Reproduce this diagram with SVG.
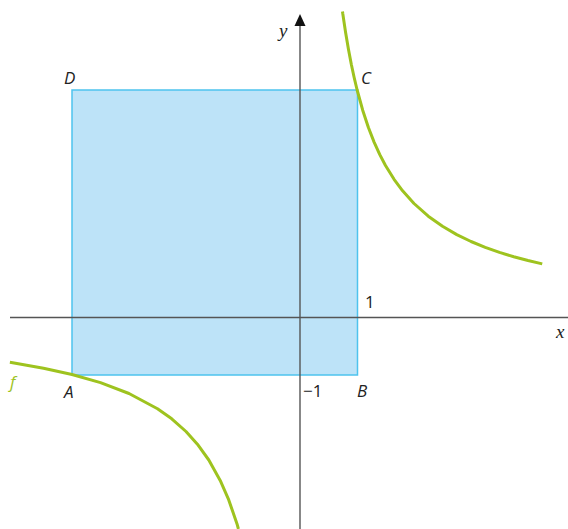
<svg xmlns="http://www.w3.org/2000/svg" width="568" height="529" viewBox="0 0 568 529">
<style>
.ax{stroke:#555;stroke-width:1.4;fill:none}
.cv{stroke:#9ec31f;stroke-width:3;fill:none;stroke-linejoin:round;stroke-linecap:butt}
.lb{font-family:"Open Sans","Liberation Sans",sans-serif;font-size:17px;fill:#222}
.it{font-style:italic}
.sv{font-family:"Liberation Serif",serif;font-style:italic;font-size:19px;fill:#222}
</style>
<rect width="568" height="529" fill="#fff"/>
<g id="square">
<rect x="72" y="90" width="285.5" height="285" fill="#bde3f8" stroke="#4ec3ee" stroke-width="1.5"/>
</g>
<g id="axes">
<line class="ax" x1="10" y1="317.5" x2="568" y2="317.5"/>
<line class="ax" x1="300" y1="24" x2="300" y2="529"/>
<polygon points="300,14 294.5,26 305.5,26" fill="#111"/>
</g>
<g id="curve">
<polyline class="cv" points="342.5,11.5 342.75,13.5 345.6,32.5 348.45,49.3 351.3,64.2 354.15,77.5 357,89.5 362.7,110.2 368.4,127.5 374.1,142.1 379.8,154.6 385.5,165.5 394.05,179.3 402.6,190.8 414,203.5 428.25,216.2 442.5,226.3 456.75,234.6 471,241.5 485.25,247.3 499.5,252.4 513.75,256.7 528,260.5 542.25,263.9"/>
<polyline class="cv" points="9.9,362.3 43.5,368.2 72,374.5 100.5,382.6 129,393.5 157.5,408.7 171.75,418.8 186,431.5 197.4,444.2 208.8,460 220.2,480.4 228.75,499.9 237.3,524.8 238.4,529"/>
</g>
<g id="labels">
<text class="lb it" x="64" y="84">D</text>
<text class="lb it" x="361" y="84">C</text>
<text class="lb it" x="64" y="398">A</text>
<text class="lb it" x="357" y="397">B</text>
<text class="lb it" x="10" y="388" style="fill:#9ec31f">f</text>
<text class="lb" x="365" y="308">1</text>
<text class="lb" x="303" y="397">−1</text>
<text class="sv" x="279" y="37">y</text>
<text class="sv" x="556" y="338">x</text>
</g>
</svg>
